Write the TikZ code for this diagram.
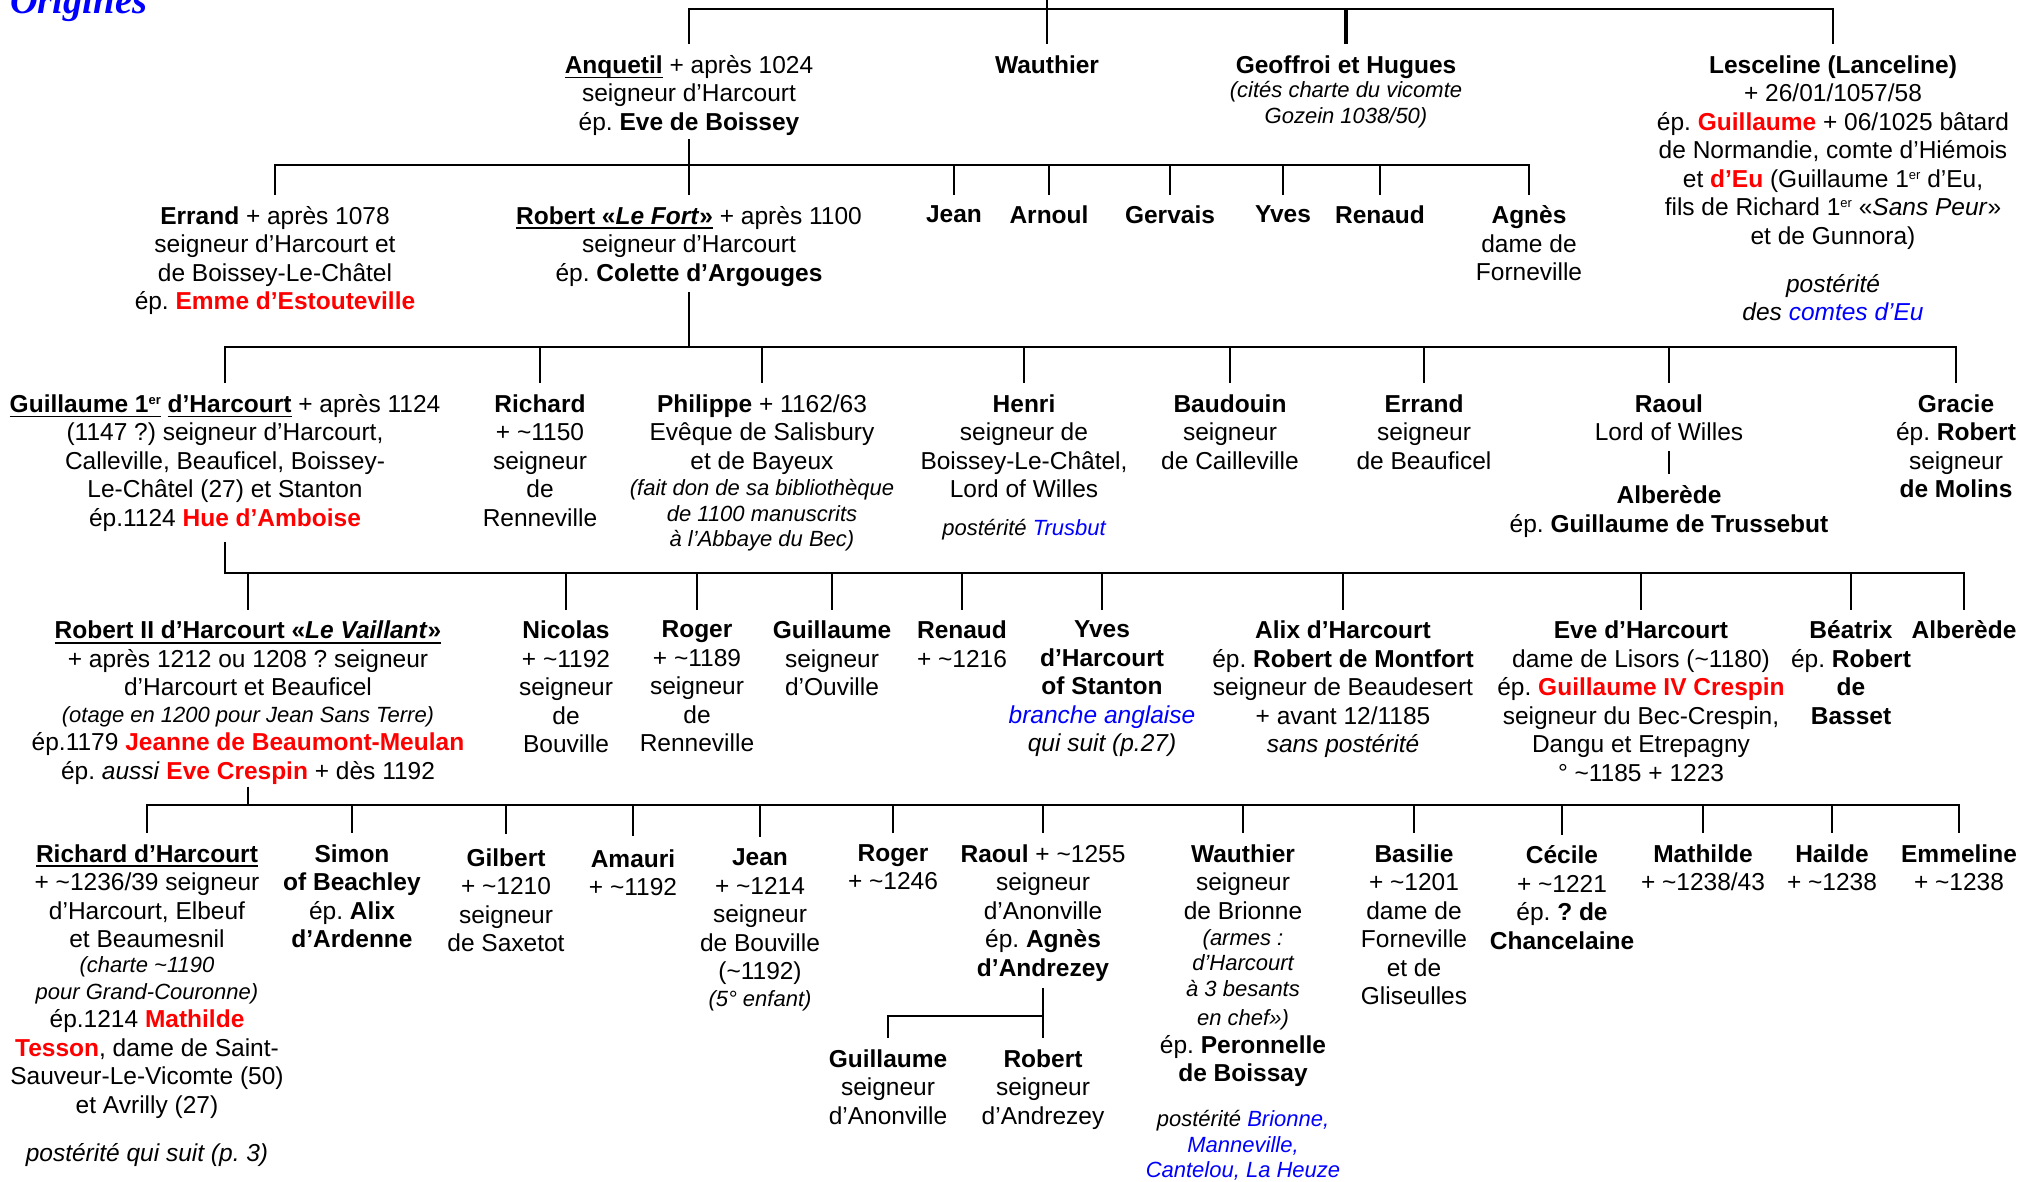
\documentclass[tikz,border=0pt]{standalone}
\usepackage{fontspec}
\setmainfont{Liberation Sans}
\newfontfamily\titrefont{Liberation Serif}
\frenchspacing
\definecolor{rougeep}{RGB}{255,0,0}
\definecolor{bleulien}{RGB}{0,0,255}
\newcommand{\rouge}[1]{{\color{rougeep}\bfseries #1}}
\newcommand{\bleu}[1]{{\color{bleulien}#1}}
\newcommand{\petit}{\fontsize{22}{26}\selectfont\itshape}
\newcommand{\circa}{\textasciitilde}
\newcommand{\expo}[1]{\raisebox{8pt}{\fontsize{13}{13}\selectfont #1}}
\newsavebox{\boitesoul}
\newcommand{\souligne}[1]{\sbox{\boitesoul}{#1}\rlap{\rule[-5pt]{\wd\boitesoul}{1.8pt}}\usebox{\boitesoul}}
\tikzset{
    personne/.style ={
        anchor=north,
        align=center,
        inner sep=0pt,
        font=\fontsize{24.5}{28.5}\selectfont
    },
    trait/.style ={
        line width=2.4pt
    }
}

\begin{document}
\begin{tikzpicture}[x=1pt,y=-1pt]
    \useasboundingbox (0,0) rectangle (2037,1182);
    \node[anchor=base west, inner sep=0pt, text=bleulien,
        font=\titrefont\fontsize{38.5}{40}\selectfont\bfseries\itshape] (titre) at (10,14) {Origines};
    % generation 1
    \node[personne] (anq) at (689,55.2) {\souligne{\textbf{Anquetil}} + après 1024\\seigneur d'Harcourt\\ép. \textbf{Eve de Boissey}};
    \node[personne] (wau1) at (1047,55.2) {\textbf{Wauthier}};
    \node[personne] (geo) at (1346,55.2) {\textbf{Geoffroi et Hugues}\\[-4.5pt]{\petit (cités charte du vicomte}\\[-2.5pt]{\petit Gozein 1038/50)}};
    \node[personne] (les) at (1833,55.2) {\textbf{Lesceline (Lanceline)}\\+ 26/01/1057/58\\ép. \rouge{Guillaume} + 06/1025 bâtard\\de Normandie, comte d'Hiémois\\et \rouge{d'Eu} (Guillaume 1\expo{er} d'Eu,\\fils de Richard 1\expo{er} «\textit{Sans Peur}»\\et de Gunnora)\\[19.5pt]\textit{postérité}\\\textit{des \bleu{comtes d'Eu}}};
    % generation 2
    \node[personne] (err2) at (275,205.8) {\textbf{Errand} + après 1078\\seigneur d'Harcourt et\\de Boissey-Le-Châtel\\ép. \rouge{Emme d'Estouteville}};
    \node[personne] (rob2) at (689,205.8) {\souligne{\textbf{Robert «\textit{Le Fort}»}} + après 1100\\seigneur d'Harcourt\\ép. \textbf{Colette d'Argouges}};
    \node[personne] (jea2) at (954,205.8) {\textbf{Jean}};
    \node[personne] (arn2) at (1049,205.8) {\textbf{Arnoul}};
    \node[personne] (ger2) at (1170,205.8) {\textbf{Gervais}};
    \node[personne] (yve2) at (1283,205.8) {\textbf{Yves}};
    \node[personne] (ren2) at (1380,205.8) {\textbf{Renaud}};
    \node[personne] (agn2) at (1529,205.8) {\textbf{Agnès}\\dame de\\Forneville};
    % generation 3
    \node[personne] (gui3) at (225,394.2) {\souligne{\textbf{Guillaume 1\expo{er}}} \souligne{\textbf{d'Harcourt}} + après 1124\\(1147 ?) seigneur d'Harcourt,\\Calleville, Beauficel, Boissey-\\Le-Châtel (27) et Stanton\\ép.1124 \rouge{Hue d'Amboise}};
    \node[personne] (ric3) at (540,394.2) {\textbf{Richard}\\+ \circa 1150\\seigneur\\de\\Renneville};
    \node[personne] (phi3) at (762,394.2) {\textbf{Philippe} + 1162/63\\Evêque de Salisbury\\et de Bayeux\\[-2pt]{\petit (fait don de sa bibliothèque}\\[-3pt]{\petit de 1100 manuscrits}\\[-3pt]{\petit à l'Abbaye du Bec)}};
    \node[personne] (hen3) at (1024,394.2) {\textbf{Henri}\\seigneur de\\Boissey-Le-Châtel,\\Lord of Willes\\[9pt]{\petit postérité \bleu{Trusbut}}};
    \node[personne] (bau3) at (1230,394.2) {\textbf{Baudouin}\\seigneur\\de Cailleville};
    \node[personne] (err3) at (1424,394.2) {\textbf{Errand}\\seigneur\\de Beauficel};
    \node[personne] (rao3) at (1669,394.2) {\textbf{Raoul}\\Lord of Willes};
    \node[personne] (alb3) at (1669,485.5) {\textbf{Alberède}\\ép. \textbf{Guillaume de Trussebut}};
    \node[personne] (gra3) at (1956,394.2) {\textbf{Gracie}\\ép. \textbf{Robert}\\seigneur\\\textbf{de Molins}};
    % generation 4
    \node[personne] (rob4) at (248,620.8) {\souligne{\textbf{Robert II d'Harcourt «\textit{Le Vaillant}»}}\\+ après 1212 ou 1208 ? seigneur\\d'Harcourt et Beauficel\\[-1.8pt]{\petit (otage en 1200 pour Jean Sans Terre)}\\ép.1179 \rouge{Jeanne de Beaumont-Meulan}\\ép. \textit{aussi} \rouge{Eve Crespin} + dès 1192};
    \node[personne] (nic4) at (566,620.8) {\textbf{Nicolas}\\+ \circa 1192\\seigneur\\de\\Bouville};
    \node[personne] (rog4) at (697,620.8) {\textbf{Roger}\\+ \circa 1189\\seigneur\\de\\Renneville};
    \node[personne] (gui4) at (832,620.8) {\textbf{Guillaume}\\seigneur\\d'Ouville};
    \node[personne] (ren4) at (962,620.8) {\textbf{Renaud}\\+ \circa 1216};
    \node[personne] (yve4) at (1102,620.8) {\textbf{Yves}\\\textbf{d'Harcourt}\\\textbf{of Stanton}\\\textit{\bleu{branche anglaise}}\\\textit{qui suit (p.27)}};
    \node[personne] (ali4) at (1343,620.8) {\textbf{Alix d'Harcourt}\\ép. \textbf{Robert de Montfort}\\seigneur de Beaudesert\\+ avant 12/1185\\\textit{sans postérité}};
    \node[personne] (eve4) at (1641,620.8) {\textbf{Eve d'Harcourt}\\dame de Lisors (\circa 1180)\\ép. \rouge{Guillaume IV Crespin}\\seigneur du Bec-Crespin,\\Dangu et Etrepagny\\° \circa 1185 + 1223};
    \node[personne] (bea4) at (1851,620.8) {\textbf{Béatrix}\\ép. \textbf{Robert}\\\textbf{de}\\\textbf{Basset}};
    \node[personne] (alb4) at (1964,620.8) {\textbf{Alberède}};
    % generation 5
    \node[personne] (ric5) at (147,844.2) {\souligne{\textbf{Richard d'Harcourt}}\\+ \circa 1236/39 seigneur\\d'Harcourt, Elbeuf\\et Beaumesnil\\[-3.5pt]{\petit (charte \circa 1190}\\[-1.8pt]{\petit pour Grand-Couronne)}\\ép.1214 \rouge{Mathilde}\\\rouge{Tesson}, dame de Saint-\\Sauveur-Le-Vicomte (50)\\et Avrilly (27)\\[20pt]\textit{postérité qui suit (p. 3)}};
    \node[personne] (sim5) at (352,844.2) {\textbf{Simon}\\\textbf{of Beachley}\\ép. \textbf{Alix}\\\textbf{d'Ardenne}};
    \node[personne] (gil5) at (506,848.5) {\textbf{Gilbert}\\+ \circa 1210\\seigneur\\de Saxetot};
    \node[personne] (ama5) at (633,849.2) {\textbf{Amauri}\\+ \circa 1192};
    \node[personne] (jea5) at (760,848.5) {\textbf{Jean}\\+ \circa 1214\\seigneur\\de Bouville\\(\circa 1192)\\[-1.8pt]{\petit (5° enfant)}};
    \node[personne] (rog5) at (893,844.2) {\textbf{Roger}\\+ \circa 1246};
    \node[personne] (rao5) at (1043,844.2) {\textbf{Raoul} + \circa 1255\\seigneur\\d'Anonville\\ép. \textbf{Agnès}\\\textbf{d'Andrezey}};
    \node[personne] (wau5) at (1243,844.2) {\textbf{Wauthier}\\seigneur\\de Brionne\\[-2pt]{\petit (armes :}\\[-3.2pt]{\petit d'Harcourt}\\[-2.8pt]{\petit à 3 besants}\\{\petit en chef»)}\\ép. \textbf{Peronnelle}\\[-0.8pt]\textbf{de Boissay}\\[17pt]{\petit postérité \bleu{Brionne,}}\\[-2.5pt]{\petit\bleu{Manneville,}}\\[-3.5pt]{\petit\bleu{Cantelou, La Heuze}}};
    \node[personne] (bas5) at (1414,844.2) {\textbf{Basilie}\\+ \circa 1201\\dame de\\Forneville\\et de\\Gliseulles};
    \node[personne] (cec5) at (1562,845.5) {\textbf{Cécile}\\+ \circa 1221\\ép. \textbf{? de}\\\textbf{Chancelaine}};
    \node[personne] (mat5) at (1703,844.2) {\textbf{Mathilde}\\+ \circa 1238/43};
    \node[personne] (hai5) at (1832,844.2) {\textbf{Hailde}\\+ \circa 1238};
    \node[personne] (emm5) at (1959,844.2) {\textbf{Emmeline}\\+ \circa 1238};
    \node[personne] (gui6) at (888,1049.2) {\textbf{Guillaume}\\seigneur\\d'Anonville};
    \node[personne] (rob6) at (1043,1049.2) {\textbf{Robert}\\seigneur\\d'Andrezey};
    % barres
    \coordinate (aieul) at (1047,-4);
    \coordinate (bar1) at (0,9);
    \coordinate (bar2) at (0,165);
    \coordinate (bar3) at (0,347);
    \coordinate (bar4) at (0,573);
    \coordinate (bar5) at (0,805);
    \coordinate (bar6) at (0,1016);
    % generation 1
    \draw[trait] (aieul) -- (wau1 |- bar1) -- ([yshift=11pt]wau1.north);
    \draw[trait] ([yshift=11pt]anq.north) -- (anq |- bar1) -- (les |- bar1) -- ([yshift=11pt]les.north);
    \draw[trait, line width=4.5pt] (geo |- bar1) -- ([yshift=11pt]geo.north);
    % generation 2
    \draw[trait] ([yshift=-3pt]anq.south) -- (anq |- bar2);
    \draw[trait] ([yshift=11pt]err2.north) -- (err2 |- bar2) -- (agn2 |- bar2) -- ([yshift=11pt]agn2.north);
    \draw[trait] (rob2 |- bar2) -- ([yshift=11pt]rob2.north);
    \draw[trait] (jea2 |- bar2) -- ([yshift=11pt]jea2.north);
    \draw[trait] (arn2 |- bar2) -- ([yshift=11pt]arn2.north);
    \draw[trait] (ger2 |- bar2) -- ([yshift=11pt]ger2.north);
    \draw[trait] (yve2 |- bar2) -- ([yshift=11pt]yve2.north);
    \draw[trait] (ren2 |- bar2) -- ([yshift=11pt]ren2.north);
    % generation 3
    \draw[trait] ([yshift=-5.5pt]rob2.south) -- (rob2 |- bar3);
    \draw[trait] ([yshift=11pt]gui3.north) -- (gui3 |- bar3) -- (gra3 |- bar3) -- ([yshift=11pt]gra3.north);
    \draw[trait] (ric3 |- bar3) -- ([yshift=11pt]ric3.north);
    \draw[trait] (phi3 |- bar3) -- ([yshift=11pt]phi3.north);
    \draw[trait] (hen3 |- bar3) -- ([yshift=11pt]hen3.north);
    \draw[trait] (bau3 |- bar3) -- ([yshift=11pt]bau3.north);
    \draw[trait] (err3 |- bar3) -- ([yshift=11pt]err3.north);
    \draw[trait] (rao3 |- bar3) -- ([yshift=11pt]rao3.north);
    \draw[trait] ([yshift=-10pt]rao3.south) -- ([yshift=11.5pt]alb3.north);
    % generation 4
    \draw[trait] ([yshift=-10pt]gui3.south) -- (gui3 |- bar4) -- (alb4 |- bar4) -- ([yshift=11pt]alb4.north);
    \draw[trait] (rob4 |- bar4) -- ([yshift=11pt]rob4.north);
    \draw[trait] (nic4 |- bar4) -- ([yshift=11pt]nic4.north);
    \draw[trait] (rog4 |- bar4) -- ([yshift=11pt]rog4.north);
    \draw[trait] (gui4 |- bar4) -- ([yshift=11pt]gui4.north);
    \draw[trait] (ren4 |- bar4) -- ([yshift=11pt]ren4.north);
    \draw[trait] (yve4 |- bar4) -- ([yshift=11pt]yve4.north);
    \draw[trait] (ali4 |- bar4) -- ([yshift=11pt]ali4.north);
    \draw[trait] (eve4 |- bar4) -- ([yshift=11pt]eve4.north);
    \draw[trait] (bea4 |- bar4) -- ([yshift=11pt]bea4.north);
    % generation 5
    \draw[trait] ([yshift=-2pt]rob4.south) -- (rob4 |- bar5);
    \draw[trait] ([yshift=11pt]ric5.north) -- (ric5 |- bar5) -- (emm5 |- bar5) -- ([yshift=11pt]emm5.north);
    \draw[trait] (sim5 |- bar5) -- ([yshift=11pt]sim5.north);
    \draw[trait] (gil5 |- bar5) -- ([yshift=15pt]gil5.north);
    \draw[trait] (ama5 |- bar5) -- ([yshift=13pt]ama5.north);
    \draw[trait] (jea5 |- bar5) -- ([yshift=12pt]jea5.north);
    \draw[trait] (rog5 |- bar5) -- ([yshift=11pt]rog5.north);
    \draw[trait] (rao5 |- bar5) -- ([yshift=11pt]rao5.north);
    \draw[trait] (wau5 |- bar5) -- ([yshift=11pt]wau5.north);
    \draw[trait] (bas5 |- bar5) -- ([yshift=11pt]bas5.north);
    \draw[trait] (cec5 |- bar5) -- ([yshift=11pt]cec5.north);
    \draw[trait] (mat5 |- bar5) -- ([yshift=11pt]mat5.north);
    \draw[trait] (hai5 |- bar5) -- ([yshift=11pt]hai5.north);
    % generation 6
    \draw[trait] ([yshift=-7pt]rao5.south) -- (rao5 |- bar6);
    \draw[trait] ([yshift=11pt]gui6.north) -- (gui6 |- bar6) -- (rob6 |- bar6) -- ([yshift=11pt]rob6.north);
\end{tikzpicture}
\end{document}
